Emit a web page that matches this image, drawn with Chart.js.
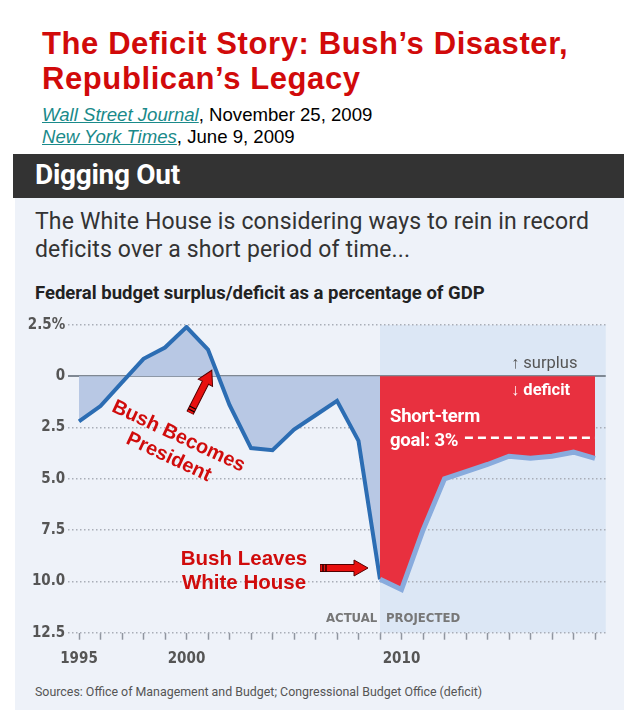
<!DOCTYPE html>
<html><head><meta charset="utf-8">
<script src="https://cdn.jsdelivr.net/npm/chart.js@4/dist/chart.umd.min.js"></script>
<style>
body{margin:0;width:630px;height:720px;background:#fff;position:relative;overflow:hidden;font-family:"Liberation Sans",Arial,sans-serif}
.abs{position:absolute;white-space:nowrap}
#title{left:42px;top:26px;font-size:31px;line-height:35px;font-weight:bold;color:#d10a0a;letter-spacing:0.6px}
.src{left:42px;font-size:18.6px;color:#000}
.src a{color:#1a8a8a;font-style:italic;text-decoration:underline}
#panel{left:15px;top:154px;width:609px;height:556px;background:#eef2f9}
#hdr{left:13px;top:154px;width:611px;height:44px;background:#333}
#hdrt{left:35px;top:158px;font-family:Roboto,sans-serif;font-weight:bold;font-size:28px;color:#fff;letter-spacing:-0.3px}
#sub{left:35px;top:208px;font-family:Roboto,sans-serif;font-size:23px;line-height:28px;color:#333;letter-spacing:0.15px}
#yl{left:35px;top:282px;font-family:Roboto,sans-serif;font-weight:bold;font-size:18.5px;color:#222;letter-spacing:0px}
#srcs{left:35px;top:684px;font-family:Roboto,sans-serif;font-size:12.4px;color:#555}
canvas{position:absolute;left:0;top:300px}
.ov{z-index:5}
.cond{font-family:"Liberation Sans Narrow","DejaVu Sans Condensed",Roboto,sans-serif}
.red{color:#d00c0c;font-weight:bold;font-family:"Liberation Sans",Arial,sans-serif}
</style></head><body>
<div id="title" class="abs">The Deficit Story: Bush’s Disaster,<br>Republican’s Legacy</div>
<div class="abs src" style="top:104px"><a>Wall Street Journal</a>, November 25, 2009</div>
<div class="abs src" style="top:126px"><a>New York Times</a>, June 9, 2009</div>
<div id="panel" class="abs"></div>
<div id="hdr" class="abs"></div>
<div id="hdrt" class="abs">Digging Out</div>
<div id="sub" class="abs">The White House is considering ways to rein in record<br>deficits over a short period of time...</div>
<div id="yl" class="abs">Federal budget surplus/deficit as a percentage of GDP</div>
<div id="srcs" class="abs">Sources: Office of Management and Budget; Congressional Budget Office (deficit)</div>
<canvas id="c" width="630" height="410"></canvas>

<div class="abs ov cond" style="left:326px;top:610px;font-size:13px;color:#777;font-weight:bold">ACTUAL</div>
<div class="abs ov cond" style="left:386px;top:610px;font-size:13px;color:#777;font-weight:bold">PROJECTED</div>
<div class="abs ov" style="left:511px;top:353px;font-family:Roboto,sans-serif;font-size:16.5px;color:#555">↑ surplus</div>
<div class="abs ov" style="left:511px;top:380px;font-family:Roboto,sans-serif;font-size:16.5px;color:#fff;font-weight:bold">↓ deficit</div>
<div class="abs ov" style="left:390px;top:404px;font-family:Roboto,sans-serif;font-size:18.5px;line-height:24px;color:#fff;font-weight:bold;letter-spacing:-0.2px">Short-term<br>goal: 3%</div>

<div class="abs ov red" style="left:174px;top:446px;font-size:20px;line-height:23px;text-align:center;transform:translate(-50%,-50%) rotate(25deg)">Bush Becomes<br>President</div>
<div class="abs ov red" style="left:244px;top:570px;font-size:20.5px;line-height:24px;text-align:center;transform:translate(-50%,-50%)">Bush Leaves<br>White House</div>

<svg class="abs ov" width="52" height="20" style="left:190px;top:403px;transform-origin:0 10px;transform:rotate(-63deg)"><polygon points="0,6.5 34,6.5 34,2 48,10 34,18 34,13.5 0,13.5" fill="#e8100f" stroke="#500" stroke-width="1"/><line x1="3" y1="6.5" x2="3" y2="13.5" stroke="#000" stroke-width="1.2"/><line x1="6" y1="6.5" x2="6" y2="13.5" stroke="#000" stroke-width="1.2"/></svg>
<svg class="abs ov" width="52" height="20" style="left:320px;top:558px"><polygon points="0,6.5 34,6.5 34,2 48,10 34,18 34,13.5 0,13.5" fill="#e8100f" stroke="#500" stroke-width="1"/><line x1="3" y1="6.5" x2="3" y2="13.5" stroke="#000" stroke-width="1.2"/><line x1="6" y1="6.5" x2="6" y2="13.5" stroke="#000" stroke-width="1.2"/></svg>

<script>
// ---- data ----
const actualYears = [1995,1996,1997,1998,1999,2000,2001,2002,2003,2004,2005,2006,2007,2008,2009];
const actualValues = [-2.2,-1.45,-0.3,0.85,1.4,2.4,1.3,-1.4,-3.5,-3.6,-2.6,-1.9,-1.2,-3.15,-9.9];
const projectedYears = [2009,2010,2011,2012,2013,2014,2015,2016,2017,2018,2019];
const projectedValues = [-9.9,-10.4,-7.5,-5.0,-4.65,-4.3,-3.9,-4.0,-3.9,-3.7,-4.0];
const goalYears = [2012.95,2019];
const goalValues = [-3,-3];
const projectionStart = 2009;
const xTickYears = [1995,1996,1997,1998,1999,2000,2001,2002,2003,2004,2005,2006,2007,2008,2009,2010,2011,2012,2013,2014,2015,2016,2017,2018,2019];
const xLabelYears = [1995,2000,2010];
const yTickValues = [2.5,0,-2.5,-5,-7.5,-10,-12.5];
const yTickLabels = ["2.5%","0","2.5","5.0","7.5","10.0","12.5"];

const pts = (xs, ys) => xs.map((x,i)=>({x, y: ys[i]}));

const projBg = {
  id:'projBg',
  beforeDraw(chart){
    const {ctx, chartArea:a, scales:{x}} = chart;
    const x0 = x.getPixelForValue(projectionStart);
    ctx.save();
    ctx.fillStyle = '#dce7f5';
    ctx.fillRect(x0, a.top, a.right - x0, a.bottom - a.top);
    ctx.restore();
  }
};

const tickFont = {family:'"Liberation Sans Narrow","DejaVu Sans Condensed",Roboto,sans-serif', size:15, weight:'bold'};

new Chart(document.getElementById('c'), {
  type:'line',
  data:{datasets:[
    {data:pts(goalYears,goalValues), borderColor:'#ffffff', borderWidth:2.5, borderDash:[8,5], pointRadius:0, fill:false, order:1},
    {data:pts(projectedYears,projectedValues), borderColor:'#88abdd', borderWidth:5, pointRadius:0, fill:'origin', backgroundColor:'#e8303f', order:2, tension:0},
    {data:pts(actualYears,actualValues), borderColor:'#2c6db3', borderWidth:4, pointRadius:0, fill:'origin', backgroundColor:'#b8c8e4', order:3, tension:0}
  ]},
  options:{
    responsive:false, animation:false,
    layout:{padding:{left:0,right:24.25,top:25,bottom:0}},
    plugins:{legend:{display:false}, tooltip:{enabled:false}},
    scales:{
      x:{type:'linear', min:1994.5, max:2019.5,
        afterBuildTicks(s){ s.ticks = xTickYears.map(v=>({value:v})); },
        afterFit(s){ s.height = 77.3; },
        grid:{drawOnChartArea:false, drawTicks:true, tickLength:7, tickColor:'#9096a0', tickWidth:1.5},
        border:{display:false},
        ticks:{autoSkip:false, maxRotation:0, padding:10, color:'#555', font:tickFont,
          callback:(v)=> xLabelYears.includes(v) ? String(v) : ''}
      },
      y:{min:-12.5, max:2.5,
        afterBuildTicks(s){ s.ticks = yTickValues.map(v=>({value:v})); },
        afterFit(s){ s.width = 68.25; },
        grid:{drawTicks:false, color:(c)=> c.tick && c.tick.value===0 ? '#7f8893' : '#a9aeb8',
              lineWidth:(c)=> c.tick && c.tick.value===0 ? 2 : 1.5},
        border:{display:false, dash:(c)=> c.tick && c.tick.value===0 ? [] : [1.5,2.5]},
        ticks:{padding:3, color:'#555', font:tickFont,
          callback:(v)=> { const i = yTickValues.indexOf(v); return i>=0 ? yTickLabels[i] : ''; }}
      }
    }
  },
  plugins:[projBg]
});
</script>
</body></html>
